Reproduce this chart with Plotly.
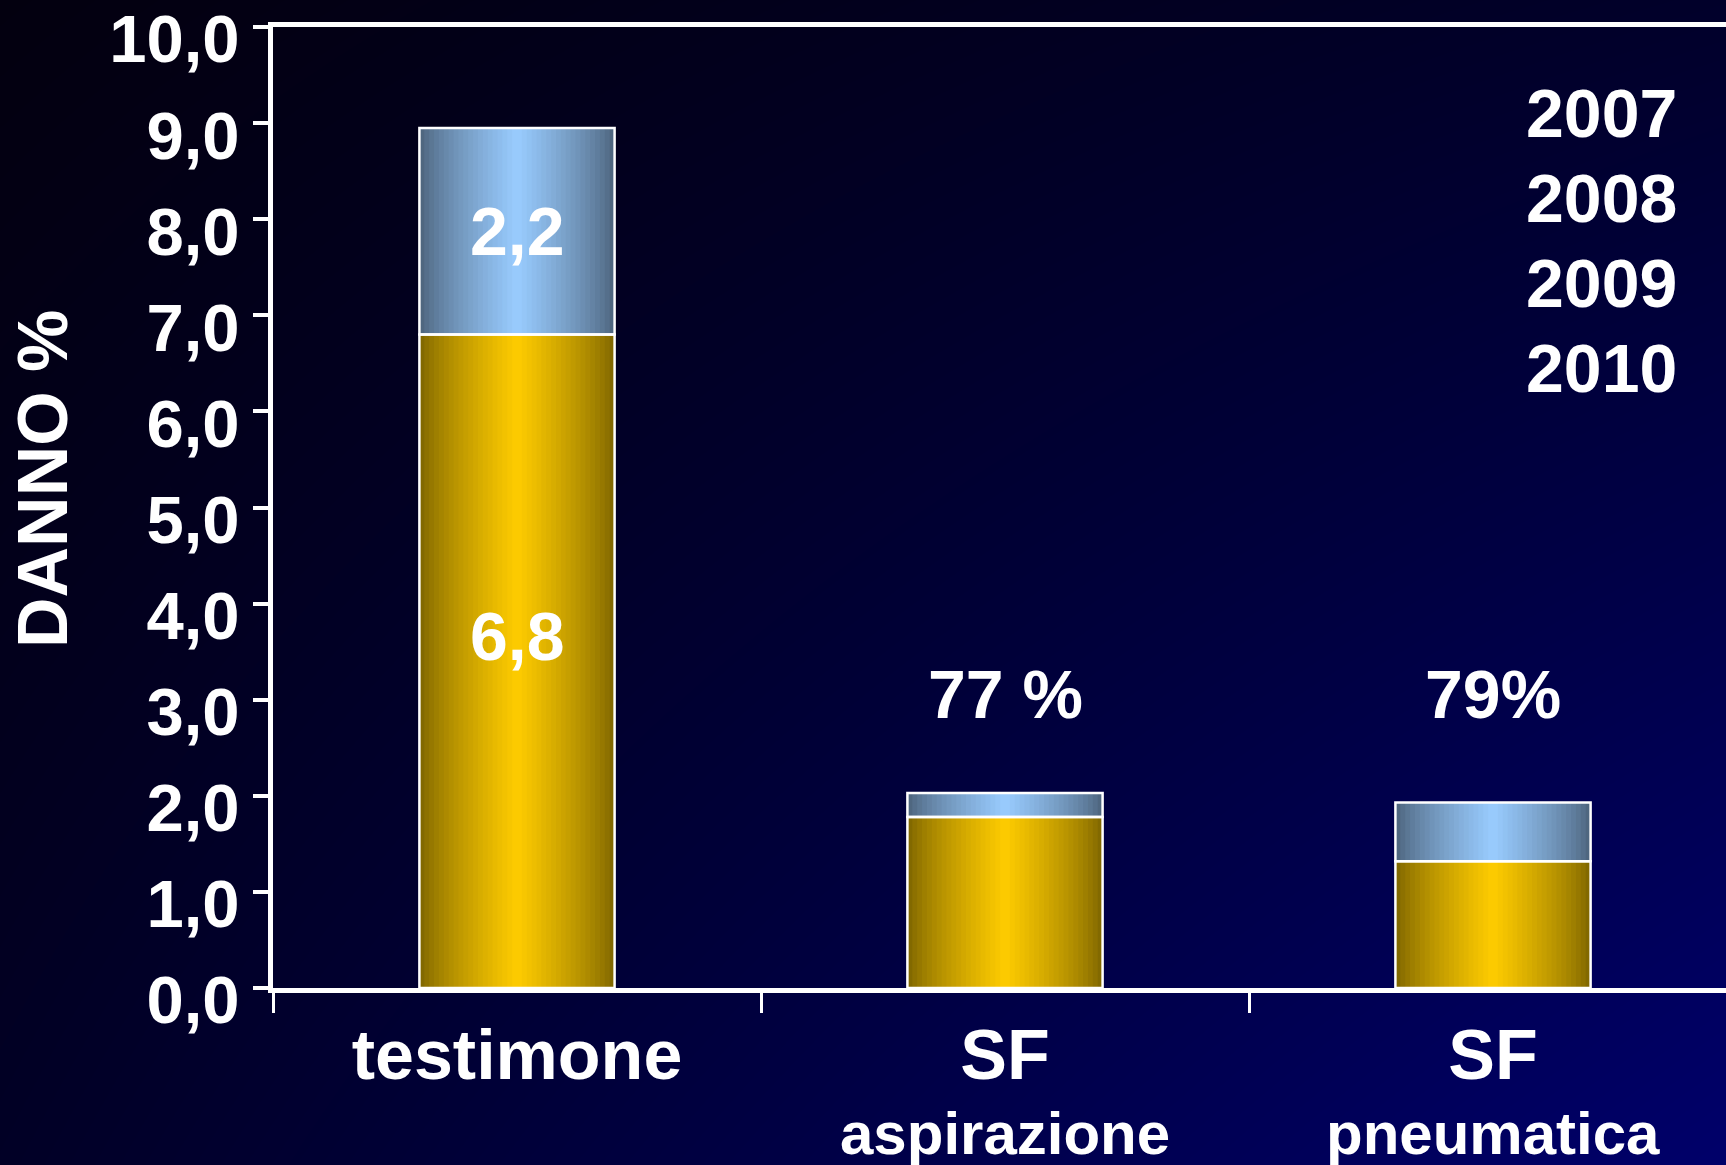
import plotly.graph_objects as go

# ---------------- data ----------------
categories = ["testimone", "SF aspirazione", "SF pneumatica"]
tick_main = ["testimone", "SF", "SF"]
tick_sub = ["", "aspirazione", "pneumatica"]
danno_base = [6.8, 1.78, 1.32]     # gold segment
danno_top = [2.15, 0.25, 0.61]     # light-blue segment
label_base = ["6,8", "", ""]
label_top = ["2,2", "", ""]
reduction_text = ["", "77 %", "79%"]
reduction_y = [None, 3.0, 3.0]
years = ["2007", "2008", "2009", "2010"]
y_ticks = [0, 1, 2, 3, 4, 5, 6, 7, 8, 9, 10]

# ---------------- style ----------------
W, H = 1726, 1165
FONT = "Liberation Sans, Arial, sans-serif"
WHITE = "#ffffff"
GOLD_EDGE, GOLD_MID = (122, 98, 0), (255, 204, 0)
BLUE_EDGE, BLUE_MID = (74, 96, 120), (153, 204, 255)
BAR_W = 0.4
N_SLICES = 40

L_PX, T_PX, B_PX = 273, 27, 988
x_dom = [L_PX / W, 1.0]
y_dom = [1 - B_PX / H, 1 - T_PX / H]
cat_px = 488
x_range = [-0.5, -0.5 + (W - L_PX) / cat_px]


def mix(c0, c1, t):
    return "rgb(%d,%d,%d)" % tuple(round(a + (b - a) * t) for a, b in zip(c0, c1))


fig = go.Figure()

# background gradient (decoration, full paper)
fig.add_trace(go.Heatmap(
    x=[0, 1], y=[0, 1], z=[[0.25, 1.0], [0.0, 0.3]],
    zsmooth="best", showscale=False, hoverinfo="skip",
    colorscale=[[0, "#03000f"], [0.45, "#000038"], [1, "#00006a"]],
    zmin=0, zmax=1, xaxis="x", yaxis="y",
))

# gradient bars drawn as vertical slices
step = BAR_W / N_SLICES
for seg_vals, seg_base, edge, mid in [
    (danno_base, [0, 0, 0], GOLD_EDGE, GOLD_MID),
    (danno_top, danno_base, BLUE_EDGE, BLUE_MID),
]:
    for i in range(N_SLICES):
        u = (i + 0.5) / N_SLICES
        t = 1 - abs(2 * u - 1)
        off = -BAR_W / 2 + i * step
        wid = min(step * 1.6, BAR_W / 2 - off)
        fig.add_trace(go.Bar(
            x=categories, y=seg_vals, base=seg_base,
            offset=off, width=wid,
            marker=dict(color=mix(edge, mid, t ** 0.75), line=dict(width=0)),
            showlegend=False, hoverinfo="skip",
            xaxis="x2", yaxis="y2",
        ))

# white outlines
for seg_vals, seg_base in [(danno_base, [0, 0, 0]), (danno_top, danno_base)]:
    fig.add_trace(go.Bar(
        x=categories, y=seg_vals, base=seg_base, width=BAR_W,
        marker=dict(color="rgba(0,0,0,0)", line=dict(color=WHITE, width=2.5)),
        showlegend=False, xaxis="x2", yaxis="y2",
    ))

annotations = []
# value labels inside the first bar
for c, v, b, txt in zip(categories, danno_base, [0, 0, 0], label_base):
    if txt:
        annotations.append(dict(x=c, y=b + v / 2, xref="x2", yref="y2", text=txt,
                                showarrow=False, yshift=25,
                                font=dict(family=FONT, size=68, color=WHITE, weight="bold")))
for c, v, b, txt in zip(categories, danno_top, danno_base, label_top):
    if txt:
        annotations.append(dict(x=c, y=b + v / 2, xref="x2", yref="y2", text=txt,
                                showarrow=False,
                                font=dict(family=FONT, size=68, color=WHITE, weight="bold")))
# reduction labels
for c, txt, yy in zip(categories, reduction_text, reduction_y):
    if txt:
        annotations.append(dict(x=c, y=yy, xref="x2", yref="y2", text=txt,
                                showarrow=False, yshift=6,
                                font=dict(family=FONT, size=68, color=WHITE, weight="bold")))
# sub-labels of categories
for c, txt in zip(categories, tick_sub):
    if txt:
        annotations.append(dict(x=c, y=1 - 1133 / H, xref="x2", yref="paper", text=txt,
                                showarrow=False, yanchor="middle",
                                font=dict(family=FONT, size=60, color=WHITE, weight="bold")))
# years
for k, yr in enumerate(years):
    annotations.append(dict(x=1679 / W, y=1 - (113 + 85 * k) / H, xref="paper", yref="paper",
                            text=yr, showarrow=False, xanchor="right", yanchor="middle",
                            font=dict(family=FONT, size=68, color=WHITE, weight="bold")))
# y-axis title
annotations.append(dict(x=43 / W, y=1 - 479 / H, xref="paper", yref="paper", text="DANNO %",
                        textangle=-90, showarrow=False, xanchor="center", yanchor="middle",
                        font=dict(family=FONT, size=70, color=WHITE, weight="bold")))

fig.update_layout(
    width=W, height=H,
    margin=dict(l=0, r=0, t=0, b=0, autoexpand=False),
    paper_bgcolor="#000020", plot_bgcolor="rgba(0,0,0,0)",
    barmode="overlay", showlegend=False,
    separators=",.",
    annotations=annotations,
    xaxis=dict(domain=[0, 1], range=[0, 1], visible=False, fixedrange=True, automargin=False),
    yaxis=dict(domain=[0, 1], range=[0, 1], visible=False, fixedrange=True, automargin=False),
    xaxis2=dict(
        domain=x_dom, anchor="y2", type="category", range=x_range, automargin=False,
        tickmode="array", tickvals=categories, ticktext=tick_main,
        tickson="boundaries", ticks="outside", ticklen=20, tickwidth=3, tickcolor=WHITE,
        showline=True, linecolor=WHITE, linewidth=5, mirror=True, showgrid=False,
        tickfont=dict(family=FONT, size=70, color=WHITE, weight="bold"),
        ticklabelstandoff=2, ticklabeloverflow="allow",
    ),
    yaxis2=dict(
        domain=y_dom, anchor="x2", range=[0, 10], automargin=False,
        tickmode="array", tickvals=y_ticks, tickformat=".1f",
        ticks="outside", ticklen=15, tickwidth=4, tickcolor=WHITE,
        showline=True, linecolor=WHITE, linewidth=5, showgrid=False, zeroline=False,
        tickfont=dict(family=FONT, size=67, color=WHITE, weight="bold"),
        ticklabelshift=12, ticklabelstandoff=0, ticklabeloverflow="allow",
    ),
)

fig.write_html(
    "out.html",
    config={"displayModeBar": False},
    post_script="document.body.style.margin='0';document.body.style.overflow='hidden';",
)
